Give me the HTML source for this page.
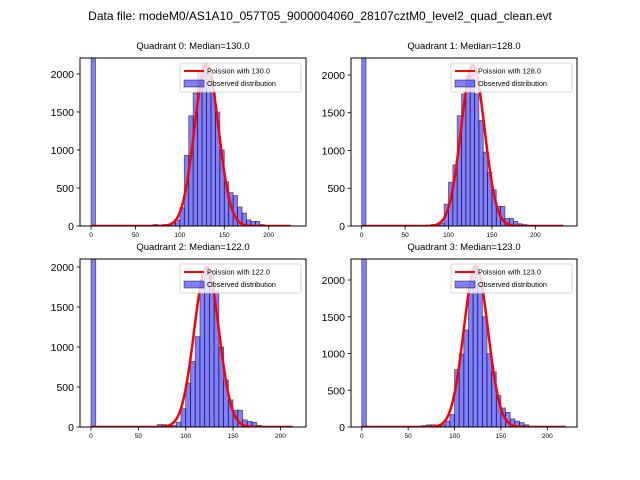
<!DOCTYPE html>
<html><head><meta charset="utf-8">
<style>
html,body{margin:0;padding:0;background:#fff;}
svg{display:block;font-family:"Liberation Sans","DejaVu Sans",sans-serif;}
</style></head>
<body>
<svg id="fig" width="640" height="480" viewBox="0 0 640 480">
<text x="320" y="20" font-size="12" text-anchor="middle">Data file: modeM0/AS1A10_057T05_9000004060_28107cztM0_level2_quad_clean.evt</text>
</svg>
<script>
// ---- data ----
const quadrantNames = ["Quadrant 0", "Quadrant 1", "Quadrant 2", "Quadrant 3"];
const medians = [130.0, 128.0, 122.0, 123.0];
const binStarts0 = [0,70,75,80,85,90,95,100,105,110,115,120,125,130,135,140,145,150,155,160,165,170,175,180,185,190,195];
const counts0    = [2600,20,10,20,20,40,80,240,930,1450,1750,2050,2100,2000,1750,1500,1000,580,440,400,250,170,80,60,60,20,10];
const binStarts1 = [0,80,85,90,95,100,105,110,115,120,125,130,135,140,145,150,155,160,165,170,175,180,185,190];
const counts1    = [2600,20,20,40,290,580,810,1460,1750,1990,2050,1750,1400,980,710,480,260,260,100,100,60,30,20,10];
const binStarts2 = [0,70,75,80,85,90,95,100,105,110,115,120,125,130,135,140,145,150,155,160,165,170,175];
const counts2    = [2600,30,30,10,20,60,230,550,820,1130,1800,2000,1950,1700,1000,590,340,210,210,90,70,60,20];
const binStarts3 = [0,60,65,70,75,80,85,90,95,100,105,110,115,120,125,130,135,140,145,150,155,160,165,170,175,180];
const counts3    = [2600,10,20,30,30,10,30,80,170,780,990,1320,1900,2150,1950,1500,1000,750,430,260,200,110,80,60,30,10];
const poissonPeaks = [2130, 2130, 2000, 2190];
const poissonWidths = [13.5, 13.5, 13, 13];
const poissonXMax = [225, 232, 213, 220];
const yTicks = [0, 500, 1000, 1500, 2000];
const xTicks = [0, 50, 100, 150, 200];
const binWidth = 5;

// ---- layout ----
const panels = [
  {L:80, R:306, T:58, B:226, xmin:-12.4, xmax:242, ymax:2210},
  {L:351, R:577, T:58, B:226, xmin:-12.3, xmax:248, ymax:2225},
  {L:80, R:306, T:259, B:427, xmin:-11.6, xmax:227, ymax:2100},
  {L:351, R:577, T:259, B:427, xmin:-11.6, xmax:232, ymax:2286}
];
const allStarts = [binStarts0, binStarts1, binStarts2, binStarts3];
const allCounts = [counts0, counts1, counts2, counts3];
const NS = "http://www.w3.org/2000/svg";
const fig = document.getElementById("fig");
function mk(tag, attrs, parent){ const e=document.createElementNS(NS,tag); for(const k in attrs) e.setAttribute(k,attrs[k]); (parent||fig).appendChild(e); return e; }

panels.forEach((p, q) => {
  const g = mk("g", {});
  
  
  const defs = mk("defs", {}, g);
  const cp = mk("clipPath", {id:"clip"+q}, defs);
  mk("rect", {x:p.L, y:p.T, width:p.R-p.L, height:p.B-p.T}, cp);
  const xs = v => p.L + (v - p.xmin) / (p.xmax - p.xmin) * (p.R - p.L);
  const ys = v => p.B - v / p.ymax * (p.B - p.T);
  const plot = mk("g", {"clip-path":"url(#clip"+q+")"}, g);
  const starts = allStarts[q], counts = allCounts[q];
  starts.forEach((s, i) => {
    const r = mk("rect", {x:xs(s), y:ys(counts[i]), width:xs(s+binWidth)-xs(s), height:ys(0)-ys(counts[i]),
      fill:"rgba(0,0,255,0.5)", stroke:"rgba(0,0,0,0.55)", "stroke-width":0.8}, plot);
    
    
  });
  // model curve
  const lam = medians[q], sd = poissonWidths[q];
  let d = "";
  for (let k = 0; k <= poissonXMax[q]; k++) {
    const val = poissonPeaks[q] * Math.exp(-0.5 * Math.pow((k - lam) / sd, 2));
    d += (k ? "L" : "M") + xs(k).toFixed(2) + "," + ys(val).toFixed(2);
  }
  const line = mk("path", {d:d, fill:"none", stroke:"#ff0000", "stroke-width":2.5}, plot);
  
  
  // frame
  const fr = mk("rect", {x:p.L, y:p.T, width:p.R-p.L, height:p.B-p.T, fill:"none", stroke:"#000", "stroke-width":1}, g);
  
  
  // ticks
  yTicks.forEach(t => {
    const y = ys(t);
    mk("line", {x1:p.L-3.5, x2:p.L, y1:y, y2:y, stroke:"#000", "stroke-width":0.8}, g);
    const tx = mk("text", {x:p.L-6, y:y+4, "font-size":10.5, "text-anchor":"end"}, g);
    tx.textContent = t;
    
    
  });
  xTicks.forEach(t => {
    const x = xs(t);
    mk("line", {x1:x, x2:x, y1:p.B, y2:p.B+3.5, stroke:"#000", "stroke-width":0.8}, g);
    const tx = mk("text", {x:x, y:p.B+11, "font-size":6.5, "text-anchor":"middle"}, g);
    tx.textContent = t;
    
    
  });
  // title
  const ti = mk("text", {x:(p.L+p.R)/2, y:p.T-9, "font-size":9.5, "text-anchor":"middle"}, g);
  ti.textContent = quadrantNames[q] + ": Median=" + medians[q].toFixed(1);
  
  
  // legend
  const lg = mk("g", {}, g);
  
  
  const lx = p.R - 126, ly = p.T + 5;
  mk("rect", {x:lx, y:ly, width:121, height:29, rx:2, fill:"rgba(255,255,255,0.8)", stroke:"#ccc", "stroke-width":0.8}, lg);
  mk("line", {x1:lx+4, x2:lx+24, y1:ly+8, y2:ly+8, stroke:"#f00", "stroke-width":2}, lg);
  const t1 = mk("text", {x:lx+27, y:ly+10.5, "font-size":7.3}, lg);
  t1.textContent = "Poission with " + medians[q].toFixed(1);
  
  
  mk("rect", {x:lx+4, y:ly+17, width:20, height:7, fill:"rgba(0,0,255,0.5)", stroke:"rgba(0,0,0,0.55)", "stroke-width":0.8}, lg);
  const t2 = mk("text", {x:lx+27, y:ly+23, "font-size":7.3}, lg);
  t2.textContent = "Observed distribution";
  
  
});
</script>
</body></html>
